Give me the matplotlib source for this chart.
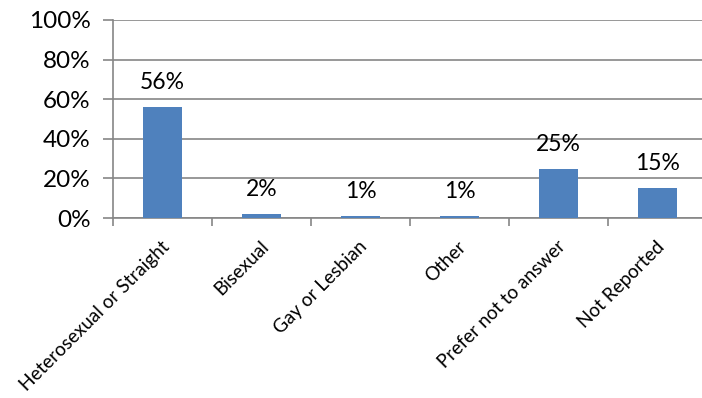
import matplotlib
matplotlib.use("Agg")
import matplotlib.pyplot as plt
import numpy as np

categories = ["Heterosexual or Straight", "Bisexual", "Gay or Lesbian", "Other",
              "Prefer not to answer", "Not Reported"]
values = [56, 2, 1, 1, 25, 15]
labels = ["56%", "2%", "1%", "1%", "25%", "15%"]
yticks = [0, 20, 40, 60, 80, 100]
ytick_labels = ["0%", "20%", "40%", "60%", "80%", "100%"]

plt.rcParams['font.family'] = ['Lato', 'DejaVu Sans']

fig = plt.figure(figsize=(7.02, 3.98), dpi=100)
W, H = 702, 398
left, right, top, bottom = 113, 707, 20, 218
ax = fig.add_axes([left / W, 1 - bottom / H, (right - left) / W, (bottom - top) / H])

grid_c = "#868686"
x = np.arange(len(categories))
ax.bar(x, values, width=0.4, color="#4F81BD", zorder=3)
ax.set_xlim(-0.5, len(categories) - 0.5)
ax.set_ylim(0, 100)
ax.set_yticks(yticks)
ax.set_yticklabels(ytick_labels, fontsize=17.5)
ax.yaxis.grid(True, color=grid_c, linewidth=1.2, zorder=0)
ax.tick_params(axis='y', length=7, color=grid_c, width=1.2, pad=9)

ax.set_xticks(np.arange(len(categories) + 1) - 0.5)
ax.set_xticklabels([])
ax.tick_params(axis='x', length=6, color=grid_c, width=1.2)
for xi, c in zip(x, categories):
    ax.text(xi - 0.02, -0.10, c, transform=ax.get_xaxis_transform(),
            rotation=45, ha='right', va='top', rotation_mode='anchor', fontsize=13.6)

for xi, v, lab in zip(x, values, labels):
    ax.annotate(lab, (xi, v), xytext=(0, 10), textcoords='offset points',
                ha='center', va='bottom', fontsize=16.5)

for s in ['top', 'right']:
    ax.spines[s].set_visible(False)
for s in ['left', 'bottom']:
    ax.spines[s].set_color(grid_c)
    ax.spines[s].set_linewidth(1.2)

fig.savefig("out.png", dpi=100)
